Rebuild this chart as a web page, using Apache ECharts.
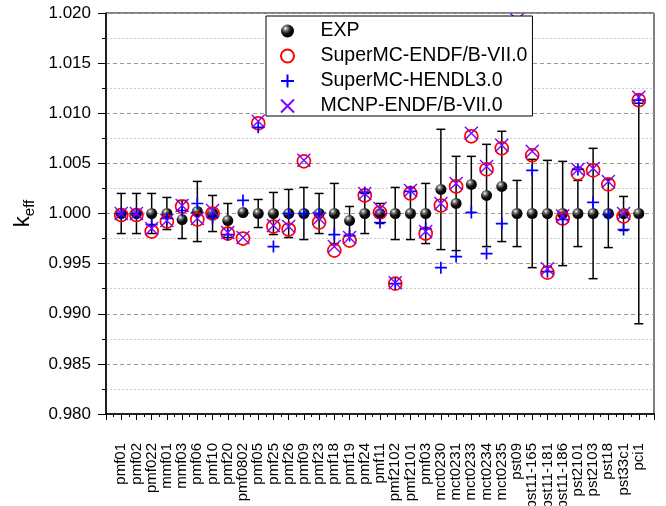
<!DOCTYPE html>
<html><head><meta charset="utf-8">
<script src="https://cdn.jsdelivr.net/npm/echarts@6/dist/echarts.min.js"></script>
<style>html,body{margin:0;padding:0;background:#fff}#c{width:666px;height:506px}</style>
</head><body><div id="c"></div>
<script>
const categories = ['pmf01','pmf02','pmf022','mmf01','mmf03','pmf06','pmf10','pmf20','pmf0802','pmf05','pmf25','pmf26','pmf09','pmf23','pmf18','pmf19','pmf24','pmf11','pmf2102','pmf2101','pmf03','mct0230','mct0231','mct0233','mct0234','mct0235','pst09','pst11-165','pst11-181','pst11-186','pst2101','pst2103','pst18','pst33c1','pci1'];
const expValues = [1.0000,1.0000,1.0000,1.0000,0.9994,1.0002,1.0000,0.9993,1.0001,1.0000,1.0000,1.0000,1.0000,1.0000,1.0000,0.9993,1.0000,1.0000,1.0000,1.0000,1.0000,1.0024,1.0010,1.0029,1.0018,1.0027,1.0000,1.0000,1.0000,1.0000,1.0000,1.0000,1.0000,1.0000,1.0000];
const expErrors = [0.0020,0.0020,0.0020,0.0016,0.0019,0.0030,0.0018,0.0017,0.0001,0.0014,0.0021,0.0024,0.0026,0.0020,0.0030,0.0014,0.0020,0.0010,0.0026,0.0026,0.0030,0.0060,0.0047,0.0028,0.0051,0.0055,0.0033,0.0054,0.0053,0.0052,0.0033,0.0065,0.0034,0.0017,0.0110];
const superMcEndf = [0.99985,0.99985,0.9982,0.9992,1.0007,0.9994,1.0000,0.9980,0.9975,1.0090,0.9987,0.9984,1.0052,0.9991,0.9963,0.9973,1.0018,1.0001,0.9930,1.0020,0.9980,1.0008,1.0027,1.0077,1.0044,1.0065,1.0180,1.0058,0.9941,0.9995,1.0040,1.0043,1.0029,0.9997,1.0113];
const superMcHendl = [1.0000,1.0000,0.9989,0.9995,1.0003,1.0010,0.9996,0.9979,1.0013,1.0086,0.9967,1.0000,1.0000,1.0000,0.9979,0.9978,1.0021,0.9991,0.9930,1.0022,0.9985,0.9946,0.9957,1.0001,0.9960,0.9990,1.0175,1.0043,0.9942,0.9994,1.0044,1.0011,0.9999,0.9984,1.0113];
const mcnpEndf = [1.0000,1.0000,0.9985,0.9993,1.0008,0.9995,1.0003,0.9981,0.9976,1.0092,0.9988,0.9987,1.0053,0.9995,0.9967,0.9976,1.0020,1.0005,0.9931,1.0023,0.9982,1.0010,1.0030,1.0080,1.0047,1.0068,1.0193,1.0062,0.9945,0.99975,1.0044,1.0045,1.0032,1.0000,1.0116];
const seriesNames = ['EXP','SuperMC-ENDF/B-VII.0','SuperMC-HENDL3.0','MCNP-ENDF/B-VII.0'];
const yMin = 0.980, yMax = 1.020, yStep = 0.005;

const FONT = 'Liberation Sans';
const pts = arr => arr.map((v, i) => [i + 1, v]);
const errData = expValues.map((v, i) => [i + 1, v - expErrors[i], v + expErrors[i]]);

const chart = echarts.init(document.getElementById('c'), null, {renderer: 'canvas'});
chart.setOption({
  animation: false,
  backgroundColor: '#fff',
  textStyle: {fontFamily: FONT, color: '#000'},
  grid: {left: 106, right: 12, top: 13, bottom: 92, containLabel: false, outerBoundsMode: 'none',
         show: true, borderColor: '#000', borderWidth: 1, backgroundColor: 'transparent'},
  legend: {
    data: seriesNames,
    orient: 'vertical', left: 266, top: 16, zlevel: 1, z: 10,
    itemWidth: 46, itemHeight: 13, itemGap: 5,
    padding: [5, 5, 0, 14],
    backgroundColor: '#fff', borderColor: '#000', borderWidth: 1, borderRadius: 0,
    textStyle: {fontFamily: FONT, fontSize: 19.5, color: '#000', padding: [0, 0, 0, 5]}
  },
  xAxis: {
    type: 'value', min: 0, max: 36, interval: 1,
    axisLine: {show: true, onZero: false, lineStyle: {color: '#000', width: 1.5}},
    axisTick: {show: true, length: 6, lineStyle: {color: '#000', width: 1}},
    minorTick: {show: true, splitNumber: 2, length: 3, lineStyle: {color: '#000', width: 1}},
    splitLine: {show: false},
    axisLabel: {
      rotate: 90, fontSize: 15, fontFamily: FONT, color: '#000', margin: 29,
      formatter: v => categories[Math.round(v) - 1] || ''
    }
  },
  yAxis: {
    type: 'value', min: yMin, max: yMax, interval: yStep,
    name: '{k|k}{s|eff}', nameLocation: 'middle', nameRotate: 90, nameGap: 68,
    nameTextStyle: {
      fontFamily: FONT, color: '#000',
      rich: {
        k: {fontSize: 22, fontFamily: FONT, color: '#000', verticalAlign: 'bottom', padding: [0, 0, 4, 0]},
        s: {fontSize: 15, fontFamily: FONT, color: '#000', verticalAlign: 'bottom'}
      }
    },
    axisLine: {show: true, onZero: false, lineStyle: {color: '#000', width: 1.5}},
    axisTick: {show: true, length: 8, lineStyle: {color: '#000', width: 1}},
    minorTick: {show: true, splitNumber: 2, length: 4, lineStyle: {color: '#000', width: 1}},
    splitLine: {show: true, lineStyle: {color: '#999', type: [4, 3], width: 1}},
    minorSplitLine: {show: true, lineStyle: {color: '#ccc', type: [2, 2], width: 1}},
    axisLabel: {fontSize: 17, fontFamily: FONT, color: '#000', margin: 15, formatter: v => v.toFixed(3)}
  },
  series: [
    {
      type: 'custom', name: 'errorbars', data: errData,
      encode: {x: 0, y: [1, 2]},
      renderItem: function (params, api) {
        const x = api.value(0);
        const lo = api.coord([x, api.value(1)]);
        const hi = api.coord([x, api.value(2)]);
        const cw = 4.5;
        const st = {stroke: '#000', lineWidth: 1.5};
        return {type: 'group', children: [
          {type: 'line', shape: {x1: lo[0], y1: lo[1], x2: hi[0], y2: hi[1]}, style: st},
          {type: 'line', shape: {x1: lo[0] - cw, y1: lo[1], x2: lo[0] + cw, y2: lo[1]}, style: st},
          {type: 'line', shape: {x1: hi[0] - cw, y1: hi[1], x2: hi[0] + cw, y2: hi[1]}, style: st}
        ]};
      }
    },
    {
      type: 'scatter', name: seriesNames[0], data: pts(expValues),
      symbol: 'circle', symbolSize: 11,
      itemStyle: {
        color: new echarts.graphic.RadialGradient(0.35, 0.3, 0.7, [
          {offset: 0, color: '#ffffff'}, {offset: 0.25, color: '#777777'}, {offset: 0.6, color: '#111111'}, {offset: 1, color: '#000000'}
        ]),
        borderWidth: 0, opacity: 1
      }
    },
    {
      type: 'scatter', name: seriesNames[1], data: pts(superMcEndf),
      symbol: 'circle', symbolSize: 13,
      itemStyle: {color: 'rgba(255,255,255,0)', borderColor: '#ff0000', borderWidth: 1.7, opacity: 1}
    },
    {
      type: 'scatter', name: seriesNames[2], data: pts(superMcHendl),
      symbol: 'path://M5,0L5,10M0,5L10,5', symbolSize: 12,
      itemStyle: {color: 'rgba(255,255,255,0)', borderColor: '#0000ff', borderWidth: 1.7, opacity: 1}
    },
    {
      type: 'scatter', name: seriesNames[3], data: pts(mcnpEndf),
      symbol: 'path://M0,0L10,10M10,0L0,10', symbolSize: 13,
      itemStyle: {color: 'rgba(255,255,255,0)', borderColor: '#8000ff', borderWidth: 1.4, opacity: 1}
    }
  ]
});
</script>
</body></html>
